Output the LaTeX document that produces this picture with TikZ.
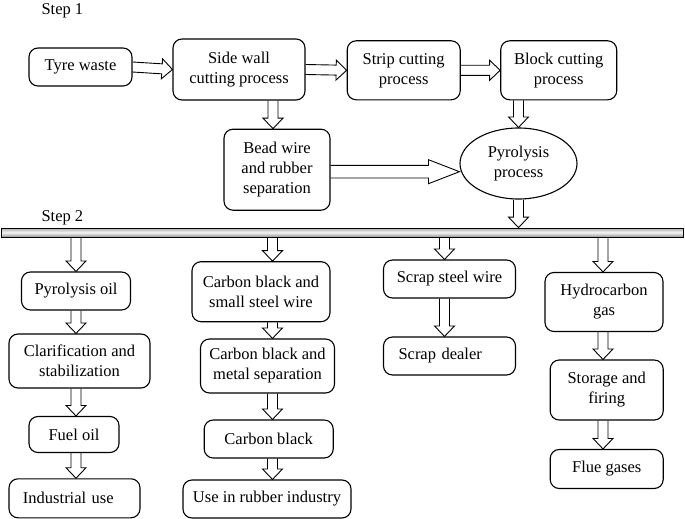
\documentclass[tikz,border=0pt]{standalone}
\usepackage{fontspec}
\setmainfont{Liberation Serif}
\usetikzlibrary{calc,positioning,shapes.geometric}

\tikzset{
  shaft/.store in=\shaftw, head/.store in=\headw, headl/.store in=\headl,
  shaft=5pt, head=10pt, headl=10.5pt,
  blk/.style={to path={
    let \p1=(\tikztostart), \p2=(\tikztotarget),
        \n1={atan2(\y2-\y1,\x2-\x1)} in
    ($(\p1)+(\n1+90:\shaftw)$)
    -- ($(\p2)+(\n1+180:\headl)+(\n1+90:\shaftw)$)
    -- ($(\p2)+(\n1+180:\headl)+(\n1+90:\headw)$)
    -- (\p2)
    -- ($(\p2)+(\n1+180:\headl)+(\n1-90:\headw)$)
    -- ($(\p2)+(\n1+180:\headl)+(\n1-90:\shaftw)$)
    -- ($(\p1)+(\n1-90:\shaftw)$)
  }}
}

\begin{document}
\begin{tikzpicture}[x=1pt, y=-1pt, line join=miter,
    font=\fontsize{16.5}{20}\selectfont,
    box/.style={draw, line width=1.1pt, rounded corners=9pt, align=center, inner sep=2pt},
    lbox/.style={box, align=left, inner xsep=14pt},
    proc/.style={draw, line width=1.1pt, ellipse, align=center, inner sep=0pt},
    arr/.style={draw, line width=0.9pt},
    bar/.style={draw, line width=0.8pt, inner sep=0pt, top color=gray!65,
      bottom color=gray!85, middle color=gray!8}]
  \useasboundingbox (0,0) rectangle (685,519);

  % step 1
  \node[anchor=base west] (s1) at (38,15) {Step 1};
  \node[box, minimum width=103pt, minimum height=38pt] (tyre) at (80.5,67) {Tyre waste};
  \node[box, minimum width=132pt, minimum height=61pt] (side) at (239,69.5) {Side wall\\cutting process};
  \node[box, minimum width=113pt, minimum height=59pt] (strip) at (403.7,70.3) {Strip cutting\\process};
  \node[box, minimum width=116pt, minimum height=59pt] (block) at (558.7,70.3) {Block cutting\\process};
  \node[box, minimum width=106pt, minimum height=81pt] (bead) at (277,169.7) {Bead wire\\and rubber\\separation};
  \node[proc, minimum width=117pt, minimum height=71pt] (pyro) at (518.5,163.5) {Pyrolysis\\process};

  \path[arr] (tyre.east) to[blk] (side.west)
    (side.east) to[blk] (strip.west)
    (strip.east) to[blk] (block.west)
    ([xshift=-4pt]side.south -| bead.north) to[blk] ([xshift=-4pt]bead.north)
    (block.south -| pyro.north) to[blk] (pyro.north)
    ([yshift=-2pt]bead.east) to[blk, shaft=6.3pt, head=12pt, headl=31pt] ([yshift=-2pt]bead.east -| pyro.west);

  % step 2
  \node[anchor=base west] (s2) at (38,221) {Step 2};
  \node[bar, minimum width=682pt, minimum height=9pt] (bar) at (342,232.5) {};
  \path[arr] (pyro.south) to[blk] (bar.north -| pyro.south);

  \coordinate (c1) at (76,0);
  \coordinate (c2) at (272.5,0);
  \coordinate (c3) at (444.5,0);
  \coordinate (c4) at (603,0);

  % pyrolysis oil
  \node[box, minimum width=109pt, minimum height=38pt] (oil) at (76,291) {Pyrolysis oil};
  \node[box, minimum width=141pt, minimum height=54pt] (clar) at (79.5,361) {Clarification and\\stabilization};
  \node[box, minimum width=90pt, minimum height=36pt] (fuel) at (74,434.5) {Fuel oil};
  \node[lbox, text width=103pt, minimum height=39pt] (indus) at (74.5,498.3) {Industrial use};

  % carbon black
  \node[box, minimum width=138pt, minimum height=60pt] (cbsw) at (261,291.7) {Carbon black and\\small steel wire};
  \node[box, minimum width=134pt, minimum height=54pt] (cbms) at (267.5,366) {Carbon black and\\metal separation};
  \node[box, minimum width=129pt, minimum height=38pt] (cb) at (268.7,439) {Carbon black};
  \node[box, minimum width=168pt, minimum height=38pt] (rubber) at (267,499) {Use in rubber industry};

  % steel wire
  \node[box, minimum width=132pt, minimum height=38pt] (scrap) at (449.5,279) {Scrap steel wire};
  \node[lbox, text width=102pt, inner xsep=15pt, minimum height=38pt] (dealer) at (449.5,356) {Scrap dealer};

  % gas
  \node[box, minimum width=118pt, minimum height=59pt] (hydro) at (604,302) {Hydrocarbon\\gas};
  \node[box, minimum width=113pt, minimum height=60pt] (store) at (606.7,390) {Storage and\\firing};
  \node[box, minimum width=113pt, minimum height=39pt] (flue) at (606.7,469) {Flue gases};

  \path[arr] (bar.south -| c1) to[blk] (oil.north -| c1)
    (oil.south -| c1) to[blk] (clar.north -| c1)
    (clar.south -| c1) to[blk] (fuel.north -| c1)
    (fuel.south -| c1) to[blk] (indus.north -| c1)
    (bar.south -| c2) to[blk] (cbsw.north -| c2)
    (cbsw.south -| c2) to[blk] (cbms.north -| c2)
    (cbms.south -| c2) to[blk] (cb.north -| c2)
    (cb.south -| c2) to[blk] (rubber.north -| c2)
    (bar.south -| c3) to[blk] (scrap.north -| c3)
    (scrap.south -| c3) to[blk] (dealer.north -| c3)
    (bar.south -| c4) to[blk] (hydro.north -| c4)
    (hydro.south -| c4) to[blk] (store.north -| c4)
    (store.south -| c4) to[blk] (flue.north -| c4);
\end{tikzpicture}
\end{document}
